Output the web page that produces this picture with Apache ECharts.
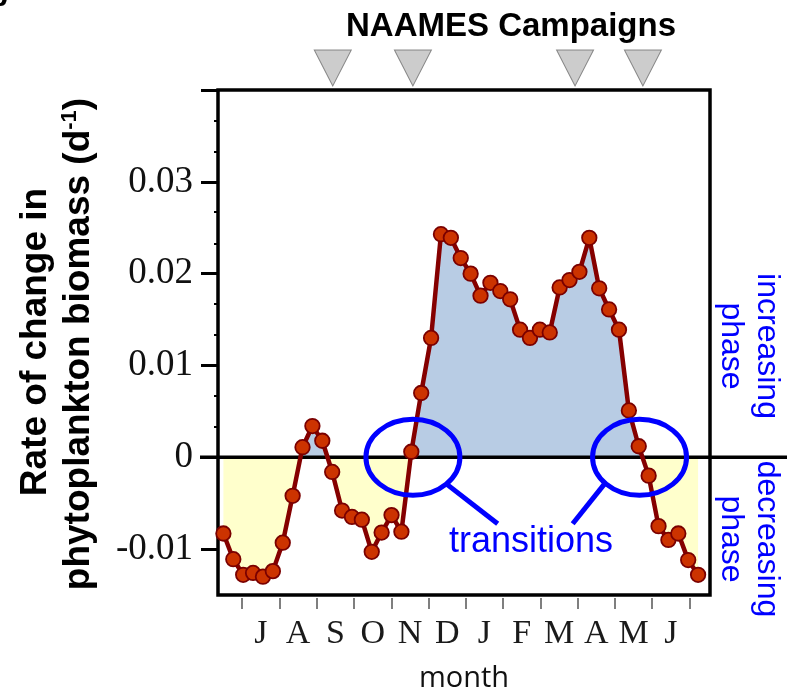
<!DOCTYPE html>
<html><head><meta charset="utf-8">
<script src="https://cdn.jsdelivr.net/npm/echarts@6/dist/echarts.min.js"></script>
<style>html,body{margin:0;padding:0;background:#fff}#c{width:787px;height:694px}</style>
</head><body><div id="c"></div>
<script>
// ---- data ----
const monthLabels = ['J','A','S','O','N','D','J','F','M','A','M','J'];
const monthTicks = [0,1,2,3,4,5,6,7,8,9,10,11,12];
const monthLabelPositions = [0.5,1.5,2.5,3.5,4.5,5.5,6.5,7.5,8.5,9.5,10.5,11.5];
// 8-day composites, x in months from 1 July
const firstSampleMonth = -0.504;
const sampleStepMonths = 0.2653;
const rateValues = [
  -0.0083,-0.0111,-0.0128,-0.0126,-0.0130,-0.0124,-0.0093,-0.0042,0.0011,0.0034,
  0.0018,-0.0016,-0.0058,-0.0065,-0.0068,-0.0103,-0.0082,-0.0063,-0.0081,0.0006,
  0.0070,0.0130,0.0243,0.0239,0.0217,0.0200,0.0176,0.0190,0.0181,0.0172,
  0.0139,0.0130,0.0139,0.0136,0.0185,0.0193,0.0202,0.0239,0.0184,0.0161,
  0.0139,0.0051,0.0012,-0.0020,-0.0075,-0.0090,-0.0083,-0.0112,-0.0128
];
const campaignMonths = [2.43, 4.58, 8.93, 10.75];
const yMajorTicks = [-0.01,0,0.01,0.02,0.03,0.04];
const yLabelValues = [-0.01,0,0.01,0.02,0.03];
const yMinorTicks = [0.0033,0.0067,0.0133,0.0167,0.0233,0.0267,0.0333,0.0367];
const transitionMonths = [4.58, 10.66];
const transitionsLabelPos = [7.75, -0.0092];

const points = rateValues.map((v, i) => [firstSampleMonth + i * sampleStepMonths, v]);

const X_MIN = -0.649, X_MAX = 12.55, Y_MIN = -0.015, Y_MAX = 0.04;
const chart = echarts.init(document.getElementById('c'), null, {renderer: 'canvas'});
const serif = 'Liberation Serif';
const sans = 'Liberation Sans';
const POS_FILL = '#b8cce4', NEG_FILL = '#ffffcc';
const option = {
  animation: false,
  backgroundColor: '#fff',
  grid: [
    {left: 218, right: 77, top: 90, bottom: 99, show: true, borderColor: '#000', borderWidth: 3.5,
     backgroundColor: 'transparent', containLabel: false, outerBoundsMode: 'none'},
    {left: 218, right: 77, top: 50, height: 36, containLabel: false, outerBoundsMode: 'none'}
  ],
  xAxis: [
    {
      type: 'value', gridIndex: 0, min: X_MIN, max: X_MAX, offset: 3, position: 'bottom',
      axisLine: {show: false, onZero: false},
      axisTick: {show: true, customValues: monthTicks, length: 11, lineStyle: {color: '#555', width: 1.5}},
      axisLabel: {customValues: monthLabelPositions, margin: 19,
        formatter: v => monthLabels[Math.round(v - 0.5)],
        fontFamily: serif, fontSize: 34, color: '#1a1a1a'},
      splitLine: {show: false},
      name: 'month', nameLocation: 'middle', nameGap: 66,
      nameTextStyle: {fontFamily: 'Open Sans', fontSize: 29, color: '#111'}
    },
    {type: 'value', gridIndex: 1, min: X_MIN, max: X_MAX, show: false, axisLine: {onZero: false}}
  ],
  yAxis: [
    {
      type: 'value', gridIndex: 0, min: Y_MIN, max: Y_MAX, position: 'left',
      axisLine: {show: false, onZero: false},
      axisTick: {show: true, customValues: yMajorTicks, length: 17, lineStyle: {color: '#000', width: 3}},
      axisLabel: {customValues: yLabelValues, margin: 25,
        formatter: v => (Math.abs(v) < 1e-9 ? '0' : v.toFixed(2)),
        fontFamily: serif, fontSize: 37, color: '#111'},
      splitLine: {show: false}
    },
    {
      type: 'value', gridIndex: 0, min: Y_MIN, max: Y_MAX, position: 'left',
      axisLine: {show: false, onZero: false},
      axisTick: {show: true, customValues: yMinorTicks, length: 4, lineStyle: {color: '#000', width: 2}},
      axisLabel: {show: false}, splitLine: {show: false}
    },
    {type: 'value', gridIndex: 1, min: 0, max: 1, show: false, axisLine: {onZero: false}}
  ],
  series: [
    {
      type: 'line', xAxisIndex: 0, yAxisIndex: 0, data: points, showSymbol: false, silent: true,
      lineStyle: {width: 0, opacity: 0}, areaStyle: {origin: 0, opacity: 1, color: POS_FILL}, z: 1
    },
    {
      type: 'line', xAxisIndex: 0, yAxisIndex: 0, data: points, z: 4,
      symbol: 'circle', symbolSize: 14.5,
      lineStyle: {color: '#850000', width: 4.5},
      itemStyle: {color: '#cc3300', borderColor: '#7a0000', borderWidth: 1.8}
    },
    {
      type: 'scatter', xAxisIndex: 1, yAxisIndex: 2, clip: false,
      data: campaignMonths.map(m => [m, 0.5]),
      symbol: 'triangle', symbolRotate: 180, symbolSize: [37, 36],
      itemStyle: {color: '#bfbfbf', borderColor: '#707070', borderWidth: 1}
    }
  ]
};
chart.setOption(option);

const px = (m, v) => chart.convertToPixel({xAxisIndex: 0, yAxisIndex: 0}, [m, v]);
const zeroY = px(0, 0)[1];
const topY = px(0, Y_MAX)[1];
const botY = px(0, Y_MIN)[1];
const zOff = (zeroY - topY) / (botY - topY);
const gridLeftPx = px(X_MIN, 0)[0];
const blue = '#0000ff';
const rx = 47, ry = 38;
const ellL = px(transitionMonths[0], 0);
const ellR = px(transitionMonths[1], 0);
const lab = px(transitionsLabelPos[0], transitionsLabelPos[1]);

const areaGradient = {
  type: 'linear', x: 0, y: topY, x2: 0, y2: botY, global: true,
  colorStops: [
    {offset: 0, color: POS_FILL}, {offset: zOff, color: POS_FILL},
    {offset: zOff, color: NEG_FILL}, {offset: 1, color: NEG_FILL}
  ]
};

const graphics = [
  {type: 'line', z: 3, shape: {x1: gridLeftPx - 18, y1: zeroY, x2: 787, y2: zeroY}, style: {stroke: '#000', lineWidth: 3.5}},
  {type: 'ellipse', z: 10, shape: {cx: ellL[0], cy: ellL[1], rx: rx, ry: ry}, style: {fill: null, stroke: blue, lineWidth: 5}},
  {type: 'ellipse', z: 10, shape: {cx: ellR[0], cy: ellR[1], rx: rx, ry: ry}, style: {fill: null, stroke: blue, lineWidth: 5}},
  {type: 'line', z: 10, shape: {x1: ellL[0] + 33.4, y1: ellL[1] + 26.6, x2: lab[0] - 33.4, y2: lab[1] - 18}, style: {stroke: blue, lineWidth: 5}},
  {type: 'line', z: 10, shape: {x1: ellR[0] - 35, y1: ellR[1] + 26.6, x2: lab[0] + 41.6, y2: lab[1] - 18}, style: {stroke: blue, lineWidth: 5}},
  {type: 'text', z: 10, style: {text: 'transitions', x: lab[0], y: lab[1], align: 'center', verticalAlign: 'middle', font: '36px ' + sans, fill: blue}},
  {type: 'text', z: 10, x: 749, y: 346, rotation: -Math.PI / 2,
    style: {text: 'increasing\nphase', x: 0, y: 0, align: 'center', verticalAlign: 'middle', font: '32px ' + sans, lineHeight: 36, fill: blue}},
  {type: 'text', z: 10, x: 749, y: 539, rotation: -Math.PI / 2,
    style: {text: 'decreasing\nphase', x: 0, y: 0, align: 'center', verticalAlign: 'middle', font: '32px ' + sans, lineHeight: 36, fill: blue}},
  {type: 'text', z: 10, x: 36, y: 342, rotation: Math.PI / 2,
    style: {text: 'Rate of change in', x: 0, y: 0, align: 'center', verticalAlign: 'middle', font: 'bold 37px ' + sans, fill: '#000'}},
  {type: 'text', z: 10, x: 79, y: 344, rotation: Math.PI / 2,
    style: {text: '{a|phytoplankton biomass (d}{s|-1}{a|)}', x: 0, y: 0, align: 'center', verticalAlign: 'middle',
      rich: {a: {fontFamily: sans, fontWeight: 'bold', fontSize: 37, lineHeight: 40, fill: '#000'},
             s: {fontFamily: sans, fontWeight: 'bold', fontSize: 22, lineHeight: 40, verticalAlign: 'top', fill: '#000'}}}},
  {type: 'text', z: 10, style: {text: 'NAAMES Campaigns', x: 511, y: 27, align: 'center', verticalAlign: 'middle', font: 'bold 33px ' + sans, fill: '#000'}},
  {type: 'text', z: 10, style: {text: 'b', x: 8, y: -2, align: 'right', verticalAlign: 'middle', font: 'bold 30px ' + sans, fill: '#000'}}
];
chart.setOption({
  series: [{areaStyle: {origin: 0, opacity: 1, color: areaGradient}}, {}, {}],
  graphic: graphics
});
</script>
</body></html>
